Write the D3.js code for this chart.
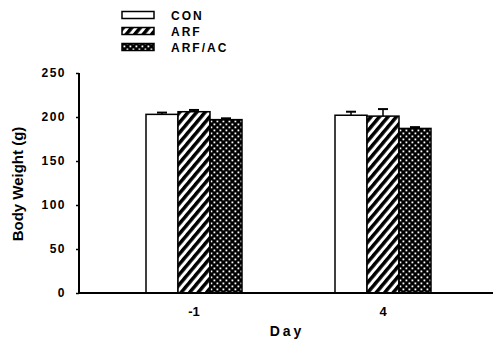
<!DOCTYPE html>
<html><head><meta charset="utf-8">
<script src="https://cdn.jsdelivr.net/npm/d3@7"></script>
<style>body{margin:0;background:#fff}svg{display:block}text{font-family:Arial,"Liberation Sans",sans-serif;font-weight:bold;fill:#000}</style>
</head><body>
<script>
const days = ["-1", "4"];
const groups = ["CON", "ARF", "ARF/AC"];
const conValues = [203, 202];
const arfValues = [206, 201];
const arfacValues = [197, 187];
const conErr = [2, 4];
const arfErr = [2, 8];
const arfacErr = [1.5, 1.5];
const yTicks = [0, 50, 100, 150, 200, 250];

const W = 493, H = 341;
const svg = d3.select("body").append("svg").attr("width", W).attr("height", H);
const defs = svg.append("defs");
const hatch = defs.append("pattern").attr("id","hatch").attr("patternUnits","userSpaceOnUse")
  .attr("width",6.5).attr("height",6.5).attr("patternTransform","rotate(40)");
hatch.append("rect").attr("width",6.5).attr("height",6.5).attr("fill","#fff");
hatch.append("rect").attr("x",0).attr("width",3.5).attr("height",6.5).attr("fill","#000");
const dots = defs.append("pattern").attr("id","dots").attr("patternUnits","userSpaceOnUse")
  .attr("width",6).attr("height",6);
dots.append("rect").attr("width",6).attr("height",6).attr("fill","#000");
dots.append("rect").attr("x",0.5).attr("y",0.5).attr("width",1.8).attr("height",1.8).attr("fill","#fff");
dots.append("rect").attr("x",3.5).attr("y",3.5).attr("width",1.8).attr("height",1.8).attr("fill","#fff");
const fills = {"CON":"#fff","ARF":"url(#hatch)","ARF/AC":"url(#dots)"};

const y = d3.scaleLinear().domain([0,250]).range([293,73]);
const x = d3.scaleBand().domain(days).range([99.5,477.5]);
const xs = d3.scaleBand().domain(groups).range([0,96]);
const cx = d => x(d) + x.bandwidth()/2 - 48;

const data = [];
days.forEach((d,i)=>{
  data.push({day:d,g:"CON",v:conValues[i],e:conErr[i]});
  data.push({day:d,g:"ARF",v:arfValues[i],e:arfErr[i]});
  data.push({day:d,g:"ARF/AC",v:arfacValues[i],e:arfacErr[i]});
});

// error bars
const eb = svg.append("g");
data.forEach(r=>{
  const mx = cx(r.day) + xs(r.g) + xs.bandwidth()/2;
  eb.append("line").attr("x1",mx).attr("x2",mx).attr("y1",y(r.v)).attr("y2",y(r.v+r.e)).attr("stroke","#000").attr("stroke-width",1.5);
  eb.append("line").attr("x1",mx-5).attr("x2",mx+5).attr("y1",y(r.v+r.e)).attr("y2",y(r.v+r.e)).attr("stroke","#000").attr("stroke-width",2);
});

svg.append("g").selectAll("rect").data(data).join("rect")
  .attr("x",r=>cx(r.day)+xs(r.g)).attr("width",xs.bandwidth())
  .attr("y",r=>y(r.v)).attr("height",r=>y(0)-y(r.v))
  .attr("fill",r=>fills[r.g]).attr("stroke","#000").attr("stroke-width",1.5);

// axes
const ya = svg.append("g").attr("transform","translate(79,0)")
  .call(d3.axisLeft(y).tickValues(yTicks).tickSize(3).tickPadding(10));
ya.select(".domain").attr("stroke-width",2).attr("d","M0,"+y(250)+"V"+y(0));
ya.selectAll("text").style("font-size","12px").style("letter-spacing","1.5px").style("font-weight","bold");
ya.selectAll(".tick line").attr("stroke-width",1.5);

svg.append("line").attr("x1",78).attr("x2",493).attr("y1",y(0)).attr("y2",y(0)).attr("stroke","#000").attr("stroke-width",2);
days.forEach(d=>{
  svg.append("text").attr("x",x(d)+x.bandwidth()/2).attr("y",316).attr("text-anchor","middle")
    .style("font-size","13px").text(d);
});
svg.append("text").attr("x",287).attr("y",336).attr("text-anchor","middle").style("font-size","14px").style("letter-spacing","3px").text("Day");
svg.append("text").attr("transform","translate(23,184) rotate(-90)").attr("text-anchor","middle").style("font-size","15px").text("Body Weight (g)");

// legend
groups.forEach((g,i)=>{
  const yy = 15 + i*16;
  svg.append("rect").attr("x",122).attr("y",yy-3.5).attr("width",32).attr("height",7).attr("fill",fills[g]).attr("stroke","#000").attr("stroke-width",1.5);
  svg.append("text").attr("x",171).attr("y",yy+4.5).style("font-size","12px").style("letter-spacing","2px").text(g);
});
</script>
</body></html>
